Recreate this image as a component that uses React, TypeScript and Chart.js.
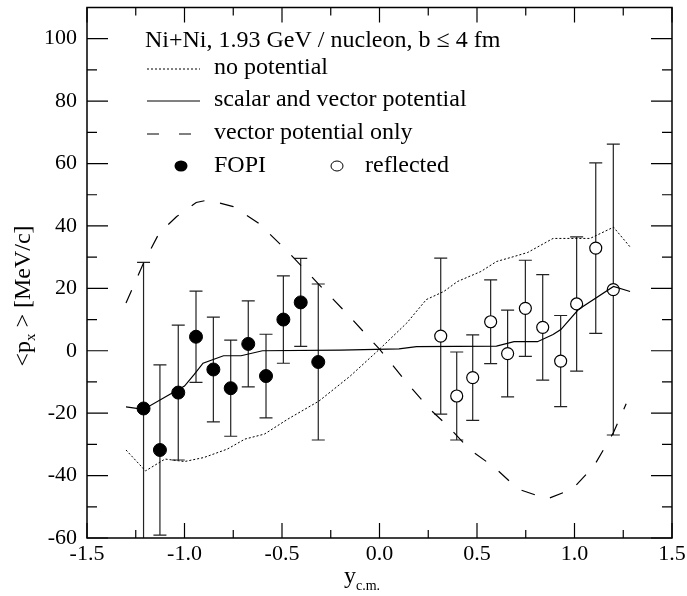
import React, { useEffect, useRef } from "react";
import { Chart, registerables } from "chart.js";

Chart.register(...registerables);

// ---- axis ticks ----
const X_TICKS = [-1.5, -1.0, -0.5, 0.0, 0.5, 1.0, 1.5];
const X_MINOR = [-1.25, -0.75, -0.25, 0.25, 0.75, 1.25];
const Y_TICKS = [-60, -40, -20, 0, 20, 40, 60, 80, 100];
const Y_MINOR = [-50, -30, -10, 10, 30, 50, 70, 90];

// ---- FOPI data (filled) ----
const FOPI_X = [-1.21, -1.126, -1.032, -0.941, -0.852, -0.763, -0.673, -0.582, -0.493, -0.404, -0.314];
const FOPI_Y = [-18.5, -31.8, -13.4, 4.5, -6.0, -12.0, 2.2, -8.1, 10.0, 15.5, -3.6];
const FOPI_ERR = [46.8, 27.3, 21.6, 14.6, 16.8, 15.4, 13.8, 13.4, 14.0, 14.1, 25.0];

// ---- reflected data (open) ----
const REFL_X = [0.314, 0.396, 0.478, 0.57, 0.657, 0.748, 0.837, 0.929, 1.011, 1.109, 1.199];
const REFL_Y = [4.7, -14.5, -8.6, 9.3, -0.9, 13.6, 7.5, -3.3, 15.0, 32.9, 19.6];
const REFL_ERR = [25.0, 14.1, 13.7, 13.4, 13.9, 15.4, 16.9, 14.6, 21.5, 27.3, 46.6];

// ---- no potential (dotted) ----
const NOPOT_X = [-1.3, -1.2, -1.1, -1.0, -0.9, -0.78, -0.69, -0.59, -0.47, -0.31, -0.15, 0.0, 0.14, 0.24, 0.33, 0.4, 0.52, 0.6, 0.69, 0.76, 0.89, 1.08, 1.2, 1.29];
const NOPOT_Y = [-31.8, -38.5, -34.7, -35.5, -34.2, -31.5, -28.3, -26.7, -21.9, -16.1, -8.1, 0.5, 8.9, 16.4, 19.0, 22.2, 25.4, 28.6, 30.2, 31.5, 36.0, 36.0, 39.6, 32.9];

// ---- scalar and vector potential (solid) ----
const SV_X = [-1.3, -1.21, -1.09, -1.0, -0.95, -0.905, -0.8, -0.71, -0.6, -0.2, 0.1, 0.19, 0.6, 0.69, 0.81, 0.89, 0.93, 1.02, 1.2, 1.285];
const SV_Y = [-18.0, -18.8, -14.5, -11.3, -7.6, -4.0, -1.6, -1.6, 0.0, 0.2, 0.6, 1.3, 1.5, 2.9, 2.9, 5.2, 6.8, 13.2, 20.6, 19.0];

// ---- vector potential only (dashed) ----
const VEC_X = [-1.3, -1.21, -1.13, -1.04, -0.94, -0.88, -0.75, -0.62, -0.48, -0.31, -0.17, 0.0, 0.14, 0.26, 0.35, 0.46, 0.59, 0.71, 0.86, 0.99, 1.1, 1.2, 1.265];
const VEC_Y = [15.3, 28.1, 37.7, 43.0, 47.5, 48.3, 46.2, 40.9, 32.4, 21.2, 12.1, 0.5, -10.2, -18.8, -24.1, -31.5, -37.4, -44.3, -47.5, -44.3, -36.9, -26.2, -17.0];

const FONT = "'Liberation Serif', 'Times New Roman', serif";

const zip = (xs: number[], ys: number[]) => xs.map((x, i) => ({ x, y: ys[i] }));

const decorPlugin = {
  id: "decor",
  beforeDatasetsDraw(chart: any) {
    const { ctx, chartArea: a, scales } = chart;
    const xs = scales.x, ys = scales.y;
    ctx.save();
    ctx.beginPath();
    ctx.rect(a.left, a.top, a.right - a.left, a.bottom - a.top);
    ctx.clip();
    ctx.strokeStyle = "#222";
    ctx.lineWidth = 1.2;
    const bars = (X: number[], Y: number[], E: number[]) => {
      X.forEach((x, i) => {
        const px = xs.getPixelForValue(x);
        const t = ys.getPixelForValue(Y[i] + E[i]);
        const b = ys.getPixelForValue(Y[i] - E[i]);
        ctx.beginPath();
        ctx.moveTo(px, t);
        ctx.lineTo(px, b);
        ctx.moveTo(px - 6.5, t);
        ctx.lineTo(px + 6.5, t);
        ctx.moveTo(px - 6.5, b);
        ctx.lineTo(px + 6.5, b);
        ctx.stroke();
      });
    };
    bars(FOPI_X, FOPI_Y, FOPI_ERR);
    bars(REFL_X, REFL_Y, REFL_ERR);
    ctx.restore();
  },
  afterDraw(chart: any) {
    const { ctx, chartArea: a, scales } = chart;
    const xs = scales.x, ys = scales.y;
    ctx.save();
    // frame
    ctx.strokeStyle = "#000";
    ctx.lineWidth = 1.5;
    ctx.strokeRect(a.left, a.top, a.right - a.left, a.bottom - a.top);
    ctx.lineWidth = 1.2;
    ctx.beginPath();
    const yt = (v: number, len: number) => {
      const p = ys.getPixelForValue(v);
      ctx.moveTo(a.left, p);
      ctx.lineTo(a.left + len, p);
      ctx.moveTo(a.right, p);
      ctx.lineTo(a.right - len, p);
    };
    const xt = (v: number, len: number) => {
      const p = xs.getPixelForValue(v);
      ctx.moveTo(p, a.bottom);
      ctx.lineTo(p, a.bottom - len);
      ctx.moveTo(p, a.top);
      ctx.lineTo(p, a.top + len);
    };
    Y_TICKS.forEach((v) => yt(v, 21));
    Y_MINOR.forEach((v) => yt(v, 10));
    X_TICKS.forEach((v) => xt(v, 15));
    X_MINOR.forEach((v) => xt(v, 8));
    ctx.stroke();

    // legend
    ctx.fillStyle = "#000";
    ctx.textBaseline = "middle";
    ctx.textAlign = "left";
    ctx.font = `24px ${FONT}`;
    ctx.fillText("Ni+Ni, 1.93 GeV / nucleon, b \u2264 4 fm", 145, 41);
    const tx = 214;
    ctx.fillText("no potential", tx, 68);
    ctx.fillText("scalar and vector potential", tx, 100);
    ctx.fillText("vector potential only", tx, 133);
    ctx.fillText("FOPI", tx, 166);
    ctx.fillText("reflected", 365, 166);
    ctx.lineWidth = 1;
    ctx.setLineDash([2, 2]);
    ctx.beginPath(); ctx.moveTo(147, 69); ctx.lineTo(200, 69); ctx.stroke();
    ctx.setLineDash([]);
    ctx.beginPath(); ctx.moveTo(147, 101); ctx.lineTo(200, 101); ctx.stroke();
    ctx.setLineDash([12, 20]);
    ctx.beginPath(); ctx.moveTo(147, 134); ctx.lineTo(200, 134); ctx.stroke();
    ctx.setLineDash([]);
    ctx.beginPath(); ctx.ellipse(181, 166, 6.5, 5.5, 0, 0, Math.PI * 2); ctx.fill();
    ctx.beginPath(); ctx.ellipse(337, 166, 6, 5, 0, 0, Math.PI * 2);
    ctx.fillStyle = "#fff"; ctx.fill(); ctx.stroke();
    ctx.fillStyle = "#000";

    // y axis title
    ctx.save();
    ctx.translate(24, 296);
    ctx.rotate(-Math.PI / 2);
    const big = `24px ${FONT}`, small = `15px ${FONT}`;
    ctx.font = big;
    const w1 = ctx.measureText("<p").width;
    const w3 = ctx.measureText(" > [MeV/c]").width;
    ctx.font = small;
    const w2 = ctx.measureText("x").width;
    let x0 = -(w1 + w2 + w3) / 2;
    ctx.font = big;
    ctx.fillText("<p", x0, 0);
    ctx.font = small;
    ctx.fillText("x", x0 + w1, 7);
    ctx.font = big;
    ctx.fillText(" > [MeV/c]", x0 + w1 + w2, 0);
    ctx.restore();

    // x axis title
    ctx.textBaseline = "alphabetic";
    ctx.font = big;
    const wy = ctx.measureText("y").width;
    ctx.font = `14px ${FONT}`;
    const wc = ctx.measureText("c.m.").width;
    const cx = 362 - (wy + wc) / 2;
    ctx.font = big;
    ctx.fillText("y", cx, 583);
    ctx.font = `14px ${FONT}`;
    ctx.fillText("c.m.", cx + wy, 590);
    ctx.restore();
  },
};

export default function App() {
  const ref = useRef<HTMLCanvasElement>(null);
  useEffect(() => {
    if (!ref.current) return;
    const tickFont = { family: FONT, size: 22 };
    const chart = new Chart(ref.current, {
      type: "scatter",
      data: {
        datasets: [
          {
            label: "no potential",
            data: zip(NOPOT_X, NOPOT_Y),
            showLine: true,
            borderColor: "#000",
            borderWidth: 1,
            borderDash: [2, 2],
            pointRadius: 0,
            fill: false,
          },
          {
            label: "scalar and vector potential",
            data: zip(SV_X, SV_Y),
            showLine: true,
            borderColor: "#000",
            borderWidth: 1.2,
            pointRadius: 0,
            fill: false,
          },
          {
            label: "vector potential only",
            data: zip(VEC_X, VEC_Y),
            showLine: true,
            borderColor: "#000",
            borderWidth: 1.2,
            borderDash: [14, 16],
            pointRadius: 0,
            fill: false,
          },
          {
            label: "FOPI",
            data: zip(FOPI_X, FOPI_Y),
            showLine: false,
            pointStyle: "circle",
            pointRadius: 6.5,
            backgroundColor: "#000",
            borderColor: "#000",
            borderWidth: 1,
          },
          {
            label: "reflected",
            data: zip(REFL_X, REFL_Y),
            showLine: false,
            pointStyle: "circle",
            pointRadius: 6,
            backgroundColor: "#fff",
            borderColor: "#000",
            borderWidth: 1.2,
          },
        ],
      },
      options: {
        animation: false,
        responsive: false,
        devicePixelRatio: 1,
        layout: { padding: { top: 7, right: 15, left: 0, bottom: 0 } },
        plugins: { legend: { display: false }, tooltip: { enabled: false } },
        scales: {
          x: {
            type: "linear",
            min: -1.5,
            max: 1.5,
            afterBuildTicks: (s: any) => {
              s.ticks = X_TICKS.map((v) => ({ value: v }));
            },
            afterFit: (s: any) => {
              s.height = 58;
              s.paddingLeft = 0;
              s.paddingRight = 0;
            },
            ticks: {
              font: tickFont,
              color: "#000",
              padding: 3,
              maxRotation: 0,
              autoSkip: false,
              callback: (v: any) => Number(v).toFixed(1),
            },
            grid: { display: false, drawTicks: false },
            border: { display: false },
          },
          y: {
            type: "linear",
            min: -60,
            max: 110,
            afterBuildTicks: (s: any) => {
              s.ticks = Y_TICKS.map((v) => ({ value: v }));
            },
            afterFit: (s: any) => {
              s.width = 87;
              s.paddingTop = 0;
              s.paddingBottom = 0;
            },
            ticks: {
              font: tickFont,
              color: "#000",
              padding: 10,
              autoSkip: false,
              callback: (v: any) => String(v),
            },
            grid: { display: false, drawTicks: false },
            border: { display: false },
          },
        },
      },
      plugins: [decorPlugin],
    } as any);
    return () => chart.destroy();
  }, []);
  return (
    <div style={{ position: "absolute", left: 0, top: 0, width: 687, height: 596, background: "#fff" }}>
      <canvas ref={ref} width={687} height={596} style={{ width: 687, height: 596, display: "block" }} />
    </div>
  );
}
